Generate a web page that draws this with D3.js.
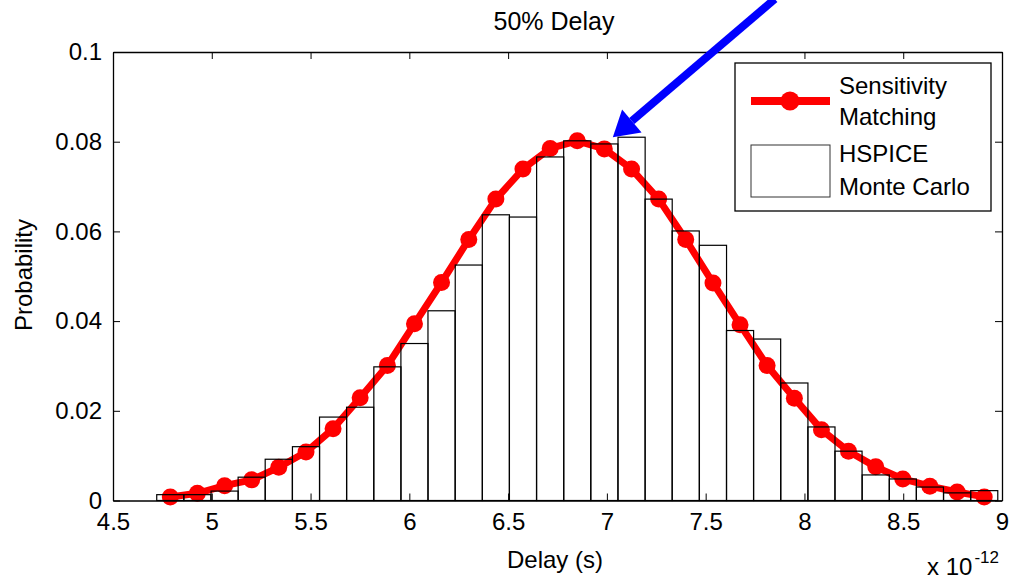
<!DOCTYPE html>
<html>
<head>
<meta charset="utf-8">
<script src="https://cdn.jsdelivr.net/npm/d3@7"></script>
<style>
  body {margin:0; background:white;}
  text {font-family:"Liberation Sans", Arial, sans-serif;}
</style>
</head>
<body>
<div id="chart"></div>
<script>
//Set dimensions of svg
var w=1009;
var h=582;

//Histogram bin centers (delay, units of 1e-12 s)
var binCenters=[4.790,4.927,5.065,5.202,5.339,5.477,5.614,5.751,5.889,6.026,
                6.163,6.301,6.438,6.575,6.713,6.850,6.987,7.125,7.262,7.399,
                7.537,7.674,7.811,7.949,8.086,8.223,8.361,8.498,8.635,8.773,8.910];
var binWidth=0.1373;

//HSPICE Monte Carlo histogram
var mcProb=[0.0013,0.0013,0.0021,0.0052,0.0092,0.0120,0.0186,0.0208,0.0298,0.0350,
            0.0423,0.0525,0.0637,0.0632,0.0766,0.0802,0.0795,0.0810,0.0672,0.0601,
            0.0569,0.0379,0.0360,0.0262,0.0164,0.0110,0.0057,0.0048,0.0030,0.0017,0.0022];

//Sensitivity matching curve
var smProb=[0.0008,0.0016,0.0033,0.0046,0.0074,0.0108,0.0160,0.0229,0.0301,0.0394,
            0.0486,0.0582,0.0672,0.0739,0.0785,0.0802,0.0784,0.0739,0.0672,0.0582,
            0.0485,0.0392,0.0301,0.0228,0.0158,0.0110,0.0075,0.0048,0.0032,0.0019,0.0008];

//Ticks
var xTicks=[4.5,5,5.5,6,6.5,7,7.5,8,8.5,9];
var xTickLabels=["4.5","5","5.5","6","6.5","7","7.5","8","8.5","9"];
var yTicks=[0,0.02,0.04,0.06,0.08,0.1];
var yTickLabels=["0","0.02","0.04","0.06","0.08","0.1"];

//Arrow annotation (data coords): tail, tip
var arrowTail=[7.85,0.1118];
var arrowTip=[7.03,0.081];

var x=d3.scaleLinear().domain([4.5,9]).range([113,1002]);
var y=d3.scaleLinear().domain([0,0.1]).range([500.5,52]);

var svg=d3.select("#chart")
          .append("svg")
          .attr("width",w)
          .attr("height",h);

//White bars underneath
var bars=svg.append("g")
            .selectAll("rect")
            .data(mcProb)
            .enter()
            .append("rect")
            .attr("x",function(d,i) {return x(binCenters[i]-binWidth/2);})
            .attr("y",function(d) {return y(d);})
            .attr("width",function(d,i) {return x(binCenters[i]+binWidth/2)-x(binCenters[i]-binWidth/2);})
            .attr("height",function(d) {return y(0)-y(d);})
            .style("fill","white")
            .style("stroke","none");

//Red curve
var line=d3.line()
           .x(function(d,i) {return x(binCenters[i]);})
           .y(function(d) {return y(d);});
svg.append("path")
   .datum(smProb)
   .attr("d",line)
   .style("fill","none")
   .style("stroke","#ff0000")
   .style("stroke-width",7)
   .style("stroke-linejoin","round");
svg.append("g")
   .selectAll("circle")
   .data(smProb)
   .enter()
   .append("circle")
   .attr("cx",function(d,i) {return x(binCenters[i]);})
   .attr("cy",function(d) {return y(d);})
   .attr("r",8.5)
   .style("fill","#ff0000");

//Bar outlines on top
svg.append("g")
   .selectAll("rect")
   .data(mcProb)
   .enter()
   .append("rect")
   .attr("x",function(d,i) {return x(binCenters[i]-binWidth/2);})
   .attr("y",function(d) {return y(d);})
   .attr("width",function(d,i) {return x(binCenters[i]+binWidth/2)-x(binCenters[i]-binWidth/2);})
   .attr("height",function(d) {return y(0)-y(d);})
   .style("fill","none")
   .style("stroke","black")
   .style("stroke-width",1.2);

//Axes (ticks inside, box on)
var xAxis=svg.append("g")
             .attr("transform","translate(0,"+y(0)+")")
             .call(d3.axisBottom(x).tickValues(xTicks)
                     .tickFormat(function(d,i) {return xTickLabels[i];})
                     .tickSizeInner(-7).tickSizeOuter(0).tickPadding(12));
var xAxisTop=svg.append("g")
                .attr("transform","translate(0,"+y(0.1)+")")
                .call(d3.axisTop(x).tickValues(xTicks).tickFormat("")
                        .tickSizeInner(-7).tickSizeOuter(0));
var yAxis=svg.append("g")
             .attr("transform","translate("+x(4.5)+",0)")
             .call(d3.axisLeft(y).tickValues(yTicks)
                     .tickFormat(function(d,i) {return yTickLabels[i];})
                     .tickSizeInner(-7).tickSizeOuter(0).tickPadding(11));
var yAxisRight=svg.append("g")
                  .attr("transform","translate("+x(9)+",0)")
                  .call(d3.axisRight(y).tickValues(yTicks).tickFormat("")
                          .tickSizeInner(-7).tickSizeOuter(0));
svg.selectAll(".domain").style("stroke","black").style("stroke-width",1.3);
svg.selectAll(".tick line").style("stroke","black");
svg.selectAll(".tick text")
   .style("font-size","24px")
   .style("fill","black")
   .style("font-family","'Liberation Sans', Arial, sans-serif");

//Titles
svg.append("text")
   .text("50% Delay")
   .attr("x",554)
   .attr("y",30)
   .attr("text-anchor","middle")
   .style("font-size","25px");
svg.append("text")
   .text("Delay (s)")
   .attr("x",555)
   .attr("y",568)
   .attr("text-anchor","middle")
   .style("font-size","24px");
svg.append("text")
   .text("Probability")
   .attr("transform","translate(32,275) rotate(-90)")
   .attr("text-anchor","middle")
   .style("font-size","24px");
var expo=svg.append("text")
            .attr("x",927)
            .attr("y",575)
            .style("font-size","24px");
expo.append("tspan").text("x 10");
expo.append("tspan")
    .text("-12")
    .attr("y",563)
    .attr("dx",2)
    .style("font-size","17px");

//Legend
svg.append("rect")
   .attr("x",735)
   .attr("y",63)
   .attr("width",256)
   .attr("height",148)
   .style("fill","white")
   .style("stroke","black")
   .style("stroke-width",1.3);
svg.append("line")
   .attr("x1",751).attr("x2",830)
   .attr("y1",101).attr("y2",101)
   .style("stroke","#ff0000")
   .style("stroke-width",8);
svg.append("circle")
   .attr("cx",790).attr("cy",101)
   .attr("r",9.5)
   .style("fill","#ff0000");
svg.append("rect")
   .attr("x",751).attr("y",145)
   .attr("width",79).attr("height",52)
   .style("fill","white")
   .style("stroke","#333")
   .style("stroke-width",1);
var legendText=["Sensitivity","Matching","HSPICE","Monte Carlo"];
var legendY=[94,125,162,195];
svg.append("g")
   .selectAll("text")
   .data(legendText)
   .enter()
   .append("text")
   .text(function(d) {return d;})
   .attr("x",839)
   .attr("y",function(d,i) {return legendY[i];})
   .style("font-size","24px");

//Blue arrow
var tx=x(arrowTail[0]), ty=y(arrowTail[1]);
var px=x(arrowTip[0]), py=y(arrowTip[1]);
var len=Math.sqrt((tx-px)*(tx-px)+(ty-py)*(ty-py));
var ux=(tx-px)/len, uy=(ty-py)/len;
var headLen=25, headHalf=15;
var bx=px+ux*headLen, by=py+uy*headLen;
svg.append("line")
   .attr("x1",tx).attr("y1",ty)
   .attr("x2",bx).attr("y2",by)
   .style("stroke","#0000ff")
   .style("stroke-width",8);
svg.append("polygon")
   .attr("points",[[px,py],[bx-uy*headHalf,by+ux*headHalf],[bx+uy*headHalf,by-ux*headHalf]].join(" "))
   .style("fill","#0000ff");
</script>
</body>
</html>
